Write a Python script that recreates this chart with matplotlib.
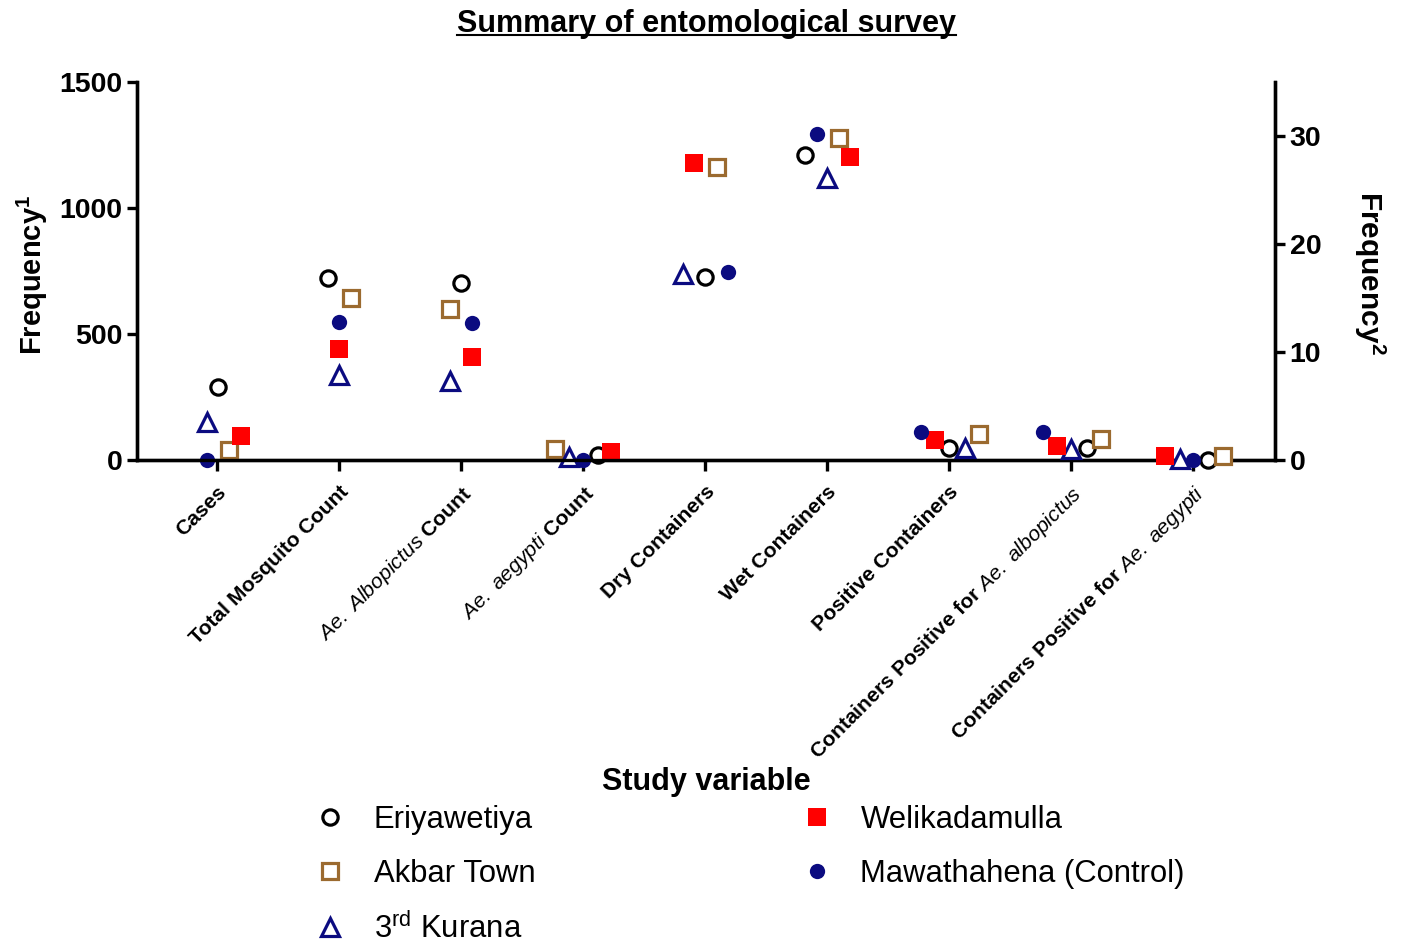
import matplotlib
matplotlib.use('Agg')

import numpy as np
from matplotlib import pyplot as plt
from matplotlib.lines import Line2D

plt.rcParams['font.family'] = ['Liberation Sans', 'DejaVu Sans']
plt.rcParams['mathtext.fontset'] = 'custom'
plt.rcParams['mathtext.rm'] = 'Liberation Sans'
plt.rcParams['mathtext.it'] = 'Liberation Sans:italic'
plt.rcParams['mathtext.bf'] = 'Liberation Sans:bold'

# study variables (first four on the left axis, container counts on the right)
categories = ['Cases', 'Total Mosquito Count', r'$\mathit{Ae.\ Albopictus}$ Count',
              r'$\mathit{Ae.\ aegypti}$ Count', 'Dry Containers', 'Wet Containers',
              'Positive Containers', r'Containers Positive for $\mathit{Ae.\ albopictus}$',
              r'Containers Positive for $\mathit{Ae.\ aegypti}$']
n_left = 4

sites = ['Eriyawetiya', 'Akbar Town', r'3$^{\mathrm{rd}}$ Kurana', 'Welikadamulla',
         'Mawathahena (Control)']

eriyawetiya = [291, 723, 703, 20, 16.9, 28.2, 1.15, 1.1, 0.0]
akbar_town = [40, 641, 598, 42, 27.1, 29.8, 2.4, 1.94, 0.37]
kurana = [152, 337, 315, 13, 17.2, 26.1, 1.15, 1.0, 0.07]
welikadamulla = [95, 442, 410, 33, 27.5, 28.0, 1.85, 1.3, 0.37]
mawathahena = [0, 546, 545, 0, 17.4, 30.2, 2.56, 2.56, 0.0]

# horizontal scatter of the points around each category
jitter_eri = [0.01, -0.09, 0.0, 0.12, 0.0, -0.18, 0.0, 0.13, 0.12]
jitter_akb = [0.10, 0.10, -0.09, -0.23, 0.095, 0.10, 0.245, 0.245, 0.24]
jitter_kur = [-0.08, 0.0, -0.09, -0.115, -0.18, 0.0, 0.13, 0.0, -0.11]
jitter_wel = [0.20, 0.0, 0.095, 0.23, -0.09, 0.19, -0.115, -0.115, -0.23]
jitter_maw = [-0.08, 0.0, 0.095, 0.0, 0.19, -0.08, -0.23, -0.23, 0.0]

navy = '#0B0B80'
styles = [
    dict(marker='o', mfc='white', mec='black', ms=11, mew=2.3),
    dict(marker='s', mfc='white', mec='#9B6A2F', ms=12, mew=2.3),
    dict(marker='^', mfc='white', mec=navy, ms=12.5, mew=2.3),
    dict(marker='s', mfc='#FF0000', mec='#FF0000', ms=13, mew=0),
    dict(marker='o', mfc=navy, mec=navy, ms=11, mew=0),
]
series = [eriyawetiya, akbar_town, kurana, welikadamulla, mawathahena]
jitters = [jitter_eri, jitter_akb, jitter_kur, jitter_wel, jitter_maw]

fig = plt.figure(figsize=(14.05, 9.43), dpi=100)
ax = fig.add_axes([137.3 / 1405, 1 - 460 / 943, (1275 - 137.3) / 1405, (460 - 81.7) / 943])
ax2 = ax.twinx()

x = np.arange(len(categories))
handles = []
for vals, jit, st, name in zip(series, jitters, styles, sites):
    xs = x + np.array(jit)
    vals = np.array(vals, dtype=float)
    ax.plot(xs[:n_left], vals[:n_left], ls='none', clip_on=False, zorder=5, **st)
    ax2.plot(xs[n_left:], vals[n_left:], ls='none', clip_on=False, zorder=5, **st)
    handles.append(Line2D([], [], ls='none', label=name, **st))

ax.set_xlim(-0.65, 8.67)
ax.set_ylim(0, 1500)
ax2.set_ylim(0, 35)
ax.set_yticks([0, 500, 1000, 1500])
ax2.set_yticks([0, 10, 20, 30])

for a in (ax, ax2):
    a.spines['top'].set_visible(False)
    for s in ('left', 'right', 'bottom'):
        a.spines[s].set_linewidth(2.4)
    a.tick_params(width=2.4, length=7)
    a.tick_params(axis='y', labelsize=20.5)
    for lab in a.get_yticklabels():
        lab.set_fontweight('bold')
ax.tick_params(axis='x', length=8, pad=8)
ax.set_xticks(x)
ax.set_xticklabels(categories, rotation=45, ha='right', va='top', rotation_mode='anchor',
                   fontsize=15.2, fontweight='bold')
ax.patch.set_visible(False)

ax.set_ylabel(r'Frequency$^{\mathbf{1}}$', fontsize=21, fontweight='bold', ha='center', va='center')
ax.yaxis.set_label_coords(-0.092, 0.49)
ax2.set_ylabel(r'Frequency$^{\mathbf{2}}$', fontsize=21.5, fontweight='bold', rotation=270,
               ha='center', va='center')
ax2.yaxis.set_label_coords(1.083, 0.495)

title = fig.text(0.5025, 1 - 24 / 943, 'Summary of entomological survey', ha='center',
                 va='center', fontsize=22, fontweight='bold')
fig.text(0.5025, 1 - 782 / 943, 'Study variable', ha='center', va='center', fontsize=22,
         fontweight='bold')

fig.legend(handles=handles, loc='upper left', bbox_to_anchor=(314.7 / 1405, 1 - 805 / 943),
           ncol=2, frameon=False, fontsize=22.3, handlelength=1.0, handletextpad=0.9,
           columnspacing=8.6, labelspacing=0.78, borderpad=0, borderaxespad=0,
           markerscale=1.0)

# underline the title
fig.canvas.draw()
bb = title.get_window_extent()
uy = (bb.y0 + 4) / fig.bbox.height
fig.add_artist(Line2D([bb.x0 / fig.bbox.width, bb.x1 / fig.bbox.width], [uy, uy],
                      color='black', lw=1.5, transform=fig.transFigure))

fig.savefig('out.png', dpi=100)
